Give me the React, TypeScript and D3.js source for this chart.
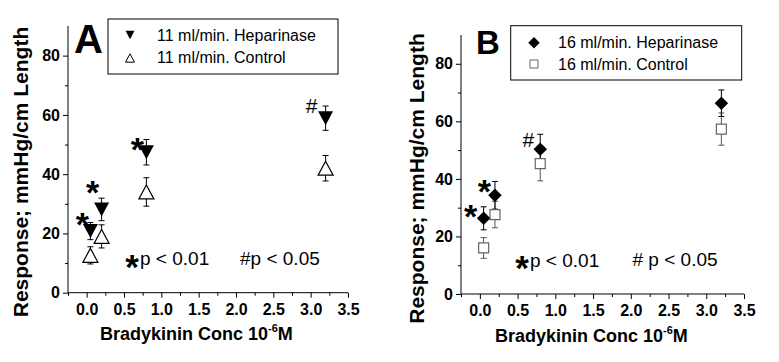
import React from 'react';
import * as d3 from 'd3';

// Bradykinin concentration (10^-6 M)
const concs = [0.05, 0.2, 0.8, 3.2];

// Panel A (11 ml/min)
const hepA = [20.8, 28.1, 47.4, 58.9];
const hepAErr = [2.9, 3.8, 4.3, 4.1];
const ctrlA = [12.6, 19.0, 34.0, 42.0];
const ctrlAErr = [2.9, 3.9, 4.8, 4.3];
const sigA = ['*', '*', '*', '#'];

// Panel B (16 ml/min)
const hepB = [26.3, 34.3, 50.3, 66.3];
const hepBErr = [4.0, 4.8, 5.2, 4.6];
const ctrlB = [16.0, 27.6, 45.3, 57.3];
const ctrlBErr = [3.6, 4.6, 6.0, 5.6];
const sigB = ['*', '*', '#', ''];

const xTicks = [0, 0.5, 1, 1.5, 2, 2.5, 3, 3.5];
const xMinor = [-0.25, 0.25, 0.75, 1.25, 1.75, 2.25, 2.75, 3.25];
const yTicks = [0, 20, 40, 60, 80];
const yMinor = [10, 30, 50, 70];

const FONT = "Arial, 'Liberation Sans', sans-serif";

// custom symbols, size = bounding width, centered on the bbox
const triDown = {
  draw(ctx, w) {
    const h = w * 0.93;
    ctx.moveTo(-w / 2, -h / 2);
    ctx.lineTo(w / 2, -h / 2);
    ctx.lineTo(0, h / 2);
    ctx.closePath();
  }
};
const triUp = {
  draw(ctx, w) {
    const h = w * 0.93;
    ctx.moveTo(-w / 2, h / 2);
    ctx.lineTo(w / 2, h / 2);
    ctx.lineTo(0, -h / 2);
    ctx.closePath();
  }
};
const diamond = {
  draw(ctx, w) {
    ctx.moveTo(0, -w / 2);
    ctx.lineTo(w / 2, 0);
    ctx.lineTo(0, w / 2);
    ctx.lineTo(-w / 2, 0);
    ctx.closePath();
  }
};
const square = {
  draw(ctx, w) {
    ctx.rect(-w / 2, -w / 2, w, w);
  }
};

const panels = [
  {
    letter: 'A', letterSize: 40, letterPos: [74, 53],
    left: 68, right: 348, top: 26, bottom: 292.7,
    hep: hepA, hepErr: hepAErr, ctrl: ctrlA, ctrlErr: ctrlAErr, sig: sigA,
    sigOffset: [[-8, -14], [-9, -24], [-9, -10], [-14, -13]],
    hepSym: triDown, ctrlSym: triUp, hepW: 15, ctrlW: 15,
    ctrlStroke: '#000', ctrlErrColor: '#000',
    legend: { box: [108, 19, 338, 74], symX: 130, symY: [35, 58], textX: 157, textY: [41, 63.3], symW: [9, 9] },
    hepLabel: '11 ml/min. Heparinase', ctrlLabel: '11 ml/min. Control',
    note1: [132, 259, 140, 265], note2: [240, 265], note2Text: '#p < 0.05',
    yTitle: [28.3, 172], xTitle: [100, 340]
  },
  {
    letter: 'B', letterSize: 33, letterPos: [476, 54],
    left: 461, right: 744, top: 35, bottom: 294,
    hep: hepB, hepErr: hepBErr, ctrl: ctrlB, ctrlErr: ctrlBErr, sig: sigB,
    sigOffset: [[-13, -9], [-10.5, -11.5], [-12, -10], [0, 0]],
    hepSym: diamond, ctrlSym: square, hepW: 13.5, ctrlW: 10,
    ctrlStroke: '#666', ctrlErrColor: '#555',
    legend: { box: [510.7, 25.7, 741.7, 80], symX: 534, symY: [42.7, 64], textX: 558, textY: [48.3, 70], symW: [11.5, 8] },
    hepLabel: '16 ml/min. Heparinase', ctrlLabel: '16 ml/min. Control',
    note1: [522, 260, 530, 266.5], note2: [632.5, 266], note2Text: '# p < 0.05',
    yTitle: [424.3, 178.5], xTitle: [495, 341.5]
  }
];

function drawPanel(svg, p) {
  const x = d3.scaleLinear().domain([-0.25, 3.5]).range([p.left, p.right]);
  const y = d3.scaleLinear().domain([0, 90]).range([p.bottom, p.top]);
  const g = svg.append('g').style('font-family', FONT);

  // axes
  g.append('g')
    .attr('transform', `translate(0,${p.bottom})`)
    .call(d3.axisBottom(x).tickValues(xTicks).tickSize(5).tickPadding(5).tickFormat(d3.format('.1f')))
    .call(a => a.select('.domain').attr('d', `M${p.left},0H${p.right}`))
    .call(a => a.selectAll('text').attr('font-size', 16).attr('font-weight', 'bold').attr('font-family', FONT).attr('dy', '0.75em'));
  g.append('g')
    .attr('transform', `translate(0,${p.bottom})`)
    .call(d3.axisBottom(x).tickValues(xMinor).tickSize(3).tickFormat(''))
    .call(a => a.select('.domain').remove());

  g.append('g')
    .attr('transform', `translate(${p.left},0)`)
    .call(d3.axisLeft(y).tickValues(yTicks).tickSize(5).tickPadding(3))
    .call(a => a.select('.domain').attr('d', `M0,${p.bottom}V${p.top}`))
    .call(a => a.selectAll('text').attr('font-size', 16).attr('font-weight', 'bold').attr('font-family', FONT));
  g.append('g')
    .attr('transform', `translate(${p.left},0)`)
    .call(d3.axisLeft(y).tickValues(yMinor).tickSize(3).tickFormat(''))
    .call(a => a.select('.domain').remove());

  // error bars
  const errBars = (vals, errs, color) => {
    const eg = g.append('g').attr('stroke', color).attr('stroke-width', 1);
    concs.forEach((c, i) => {
      const cx = x(c);
      eg.append('line').attr('x1', cx).attr('x2', cx).attr('y1', y(vals[i] - errs[i])).attr('y2', y(vals[i] + errs[i]));
      [vals[i] - errs[i], vals[i] + errs[i]].forEach(v => {
        eg.append('line').attr('x1', cx - 3).attr('x2', cx + 3).attr('y1', y(v)).attr('y2', y(v));
      });
    });
  };
  errBars(p.ctrl, p.ctrlErr, p.ctrlErrColor);
  errBars(p.hep, p.hepErr, '#000');

  // control points (open)
  g.append('g').selectAll('path')
    .data(concs)
    .enter()
    .append('path')
    .attr('d', d3.symbol().type(p.ctrlSym).size(p.ctrlW))
    .attr('transform', (d, i) => `translate(${x(d)},${y(p.ctrl[i])})`)
    .attr('fill', '#fff')
    .attr('stroke', p.ctrlStroke)
    .attr('stroke-width', 1.2);

  // heparinase points (filled)
  g.append('g').selectAll('path')
    .data(concs)
    .enter()
    .append('path')
    .attr('d', d3.symbol().type(p.hepSym).size(p.hepW))
    .attr('transform', (d, i) => `translate(${x(d)},${y(p.hep[i])})`)
    .attr('fill', '#000');

  // significance marks
  concs.forEach((c, i) => {
    const s = p.sig[i];
    if (!s) return;
    const cx = x(c) + p.sigOffset[i][0];
    const cy = y(p.hep[i]) + p.sigOffset[i][1];
    if (s === '*') {
      g.append('text').attr('x', cx).attr('y', cy + 19).attr('text-anchor', 'middle')
        .attr('font-size', 34).attr('font-weight', 'bold').text('*');
    } else {
      g.append('text').attr('x', cx).attr('y', cy + 7.5).attr('text-anchor', 'middle')
        .attr('font-size', 21).text('#');
    }
  });

  // p-value notes
  g.append('text').attr('x', p.note1[0]).attr('y', p.note1[1] + 20).attr('text-anchor', 'middle')
    .attr('font-size', 35).attr('font-weight', 'bold').text('*');
  g.append('text').attr('x', p.note1[2]).attr('y', p.note1[3]).attr('font-size', 19).text('p < 0.01');
  g.append('text').attr('x', p.note2[0]).attr('y', p.note2[1]).attr('font-size', 19).text(p.note2Text);

  // panel letter
  g.append('text').attr('x', p.letterPos[0]).attr('y', p.letterPos[1])
    .attr('font-size', p.letterSize).attr('font-weight', 'bold').text(p.letter);

  // legend
  const L = p.legend;
  g.append('rect').attr('x', L.box[0]).attr('y', L.box[1])
    .attr('width', L.box[2] - L.box[0]).attr('height', L.box[3] - L.box[1])
    .attr('fill', '#fff').attr('stroke', '#000').attr('stroke-width', 1);
  g.append('path').attr('d', d3.symbol().type(p.hepSym).size(L.symW[0]))
    .attr('transform', `translate(${L.symX},${L.symY[0]})`).attr('fill', '#000');
  g.append('path').attr('d', d3.symbol().type(p.ctrlSym).size(L.symW[1]))
    .attr('transform', `translate(${L.symX},${L.symY[1]})`).attr('fill', '#fff')
    .attr('stroke', p.ctrlStroke).attr('stroke-width', 1);
  g.append('text').attr('x', L.textX).attr('y', L.textY[0]).attr('font-size', 16).text(p.hepLabel);
  g.append('text').attr('x', L.textX).attr('y', L.textY[1]).attr('font-size', 16).text(p.ctrlLabel);

  // axis titles
  g.append('text')
    .attr('transform', `translate(${p.yTitle[0]},${p.yTitle[1]}) rotate(-90)`)
    .attr('text-anchor', 'middle')
    .attr('font-size', 21).attr('font-weight', 'bold')
    .text('Response; mmHg/cm Length');

  const xt = g.append('text').attr('x', p.xTitle[0]).attr('y', p.xTitle[1])
    .attr('font-size', 18).attr('font-weight', 'bold');
  xt.append('tspan').text('Bradykinin Conc 10');
  xt.append('tspan').attr('font-size', 11).attr('dy', -8).text('-6');
  xt.append('tspan').attr('dy', 8).text('M');
}

const App = () => {
  const svgRef = React.useRef(null);

  React.useEffect(() => {
    const svg = d3.select(svgRef.current);
    svg.selectAll('*').remove();
    svg.append('rect').attr('width', 779).attr('height', 362).attr('fill', '#fff');
    panels.forEach(p => drawPanel(svg, p));
  }, []);

  return (
    <svg ref={svgRef} width={779} height={362}
      style={{ position: 'absolute', left: 0, top: 0, display: 'block' }} />
  );
};

export default App;
